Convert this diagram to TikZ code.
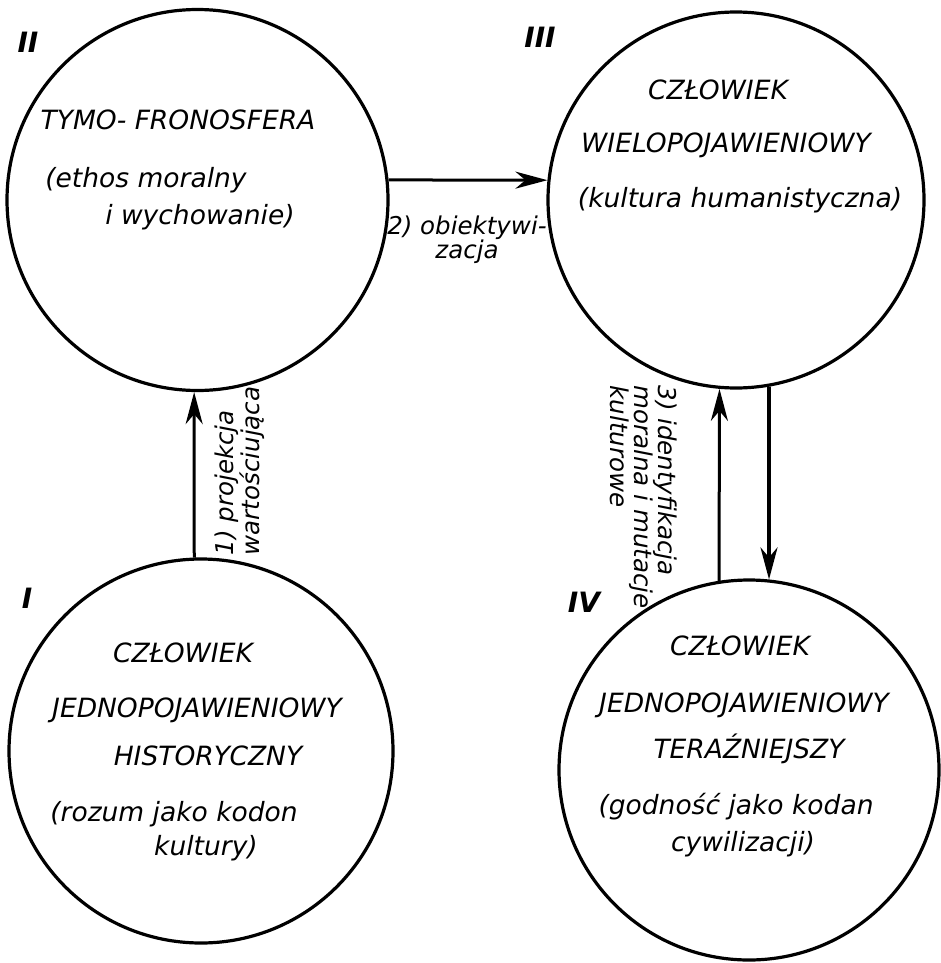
\documentclass[tikz,border=0pt]{standalone}
\usepackage{fontspec}
\setmainfont{DejaVu Sans}
\usetikzlibrary{arrows.meta,positioning}

\begin{document}
\begin{tikzpicture}[
 x=1pt, y=-1pt,
 sphere/.style={circle, draw, line width=3.2pt, inner sep=0pt},
 caps/.style={anchor=base, inner sep=0pt, font=\fontsize{26.5}{26.5}\selectfont\itshape},
 lower/.style={anchor=base, inner sep=0pt, font=\fontsize{26.5}{26.5}\selectfont\itshape},
 num/.style={inner sep=0pt, font=\fontsize{28}{28}\selectfont\bfseries\itshape},
 note/.style={inner sep=0pt, align=left, font=\fontsize{24.5}{24}\selectfont\itshape},
 arr/.style={-{Stealth[length=32pt,width=17pt,inset=10pt]}, line width=3pt},
]
\useasboundingbox (0,0) rectangle (941,963);

% Circles
\node[sphere, minimum size=381pt] (c2) at (197.5,200) {};
\node[sphere, minimum size=376pt] (c3) at (736,200) {};
\node[sphere, minimum size=384pt] (c1) at (201,751) {};
\node[sphere, minimum size=380pt] (c4) at (749,770) {};

% Numbers
\node[num] (n2) at (28,42) {II};
\node[num] (n3) at (540,37) {III};
\node[num] (n1) at (27,598) {I};
\node[num] (n4) at (584,602) {IV};

% II
\node[caps] (t2a) at (178,130) {TYMO- FRONOSFERA};
\node[lower] (t2b) at (146,187) {(ethos moralny};
\node[lower] (t2c) at (200,224) {i wychowanie)};

% III
\node[caps] (t3a) at (718,100) {CZŁOWIEK};
\node[caps] (t3b) at (726,153) {WIELOPOJAWIENIOWY};
\node[lower] (t3c) at (740,207) {(kultura humanistyczna)};

% I
\node[caps] (t1a) at (183,662) {CZŁOWIEK};
\node[caps] (t1b) at (197,717) {JEDNOPOJAWIENIOWY};
\node[caps] (t1c) at (208,765) {HISTORYCZNY};
\node[lower] (t1d) at (174,821) {(rozum jako kodon};
\node[lower] (t1e) at (206,855) {kultury)};

% IV
\node[caps] (t4a) at (740,655) {CZŁOWIEK};
\node[caps] (t4b) at (744,712) {JEDNOPOJAWIENIOWY};
\node[caps] (t4c) at (749,758) {TERAŹNIEJSZY};
\node[lower] (t4d) at (736,814) {(godność jako kodan};
\node[lower] (t4e) at (743,851) {cywilizacji)};

% Arrows
\draw[arr] (c1.92) -- (c2.269);
\draw[arr] (c2.6) -- (c3.174);
\draw[arr] (c4.99) -- (c3.265);
\draw[arr, line width=3.8pt] (c3.280) -- (c4.84);

% Arrow labels
\node[note, rotate=90] (l1) at (240,471) {1) projekcja\\wartościująca};
\node[note, align=center] (l2) at (467,240) {2) obiektywi-\\zacja};
\node[note, rotate=-90] (l3) at (644,497) {3) identyfikacja\\moralna i mutacje\\kulturowe};

\end{tikzpicture}
\end{document}
